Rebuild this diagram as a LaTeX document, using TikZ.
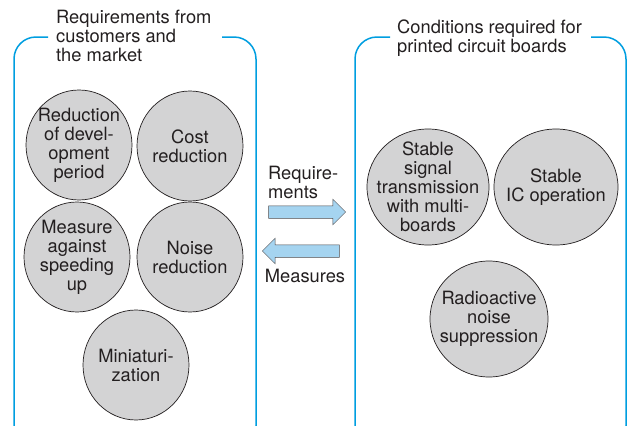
\documentclass[tikz,border=0pt]{standalone}
\usepackage{fontspec}
\setmainfont{TeX Gyre Heros}
\usepackage{xcolor}
\usetikzlibrary{shapes.geometric,shapes.arrows}
\definecolor{frameblue}{RGB}{0,158,224}
\definecolor{bubblegray}{RGB}{211,211,212}
\definecolor{arrowblue}{RGB}{165,212,240}
\definecolor{inkgray}{RGB}{35,31,32}

\begin{document}
\begin{tikzpicture}[x=1pt,y=-1pt,
  every node/.style={text=inkgray,font=\fontsize{18.3}{19}\selectfont},
  frame/.style={draw=frameblue,line width=1.5pt,rounded corners=22pt},
  title/.style={anchor=north west,align=left,inner sep=0pt},
  bubble/.style={ellipse,draw=inkgray,line width=0.7pt,fill=bubblegray,
    minimum width=106pt,minimum height=110pt,inner sep=-40pt,align=center},
  flow/.style={single arrow,draw=inkgray!80,line width=0.5pt,fill=arrowblue,
    minimum height=77pt,minimum width=25pt,inner xsep=0pt,inner ysep=6pt,
    single arrow head extend=6.5pt}]
\clip (0,0) rectangle (633,426);
% the two groups
\draw[frame] (48,37) -- (14,37) -- (14,448) -- (256,448) -- (256,37) -- (222,37);
\draw[frame] (390,37) -- (355,37) -- (355,448) -- (626,448) -- (626,37) -- (591,37);
\node[title] (custtitle) at (56,10) {Requirements from\\customers and\\the market};
\node[title] (pcbtitle) at (397,20) {Conditions required for\\printed circuit boards};
% requirements side
\node[bubble] (devel) at (79,145) {Reduction\\of devel-\\opment\\period};
\node[bubble] (cost) at (190,146) {Cost\\reduction};
\node[bubble] (speed) at (77,257) {Measure\\against\\speeding\\up};
\node[bubble] (noise) at (190,257) {Noise\\reduction};
\node[bubble] (mini) at (136,365) {Miniaturi-\\zation};
% board side
\node[bubble,minimum width=122pt,minimum height=116pt] (signal) at (428,187) {Stable\\signal\\transmission\\with multi-\\boards};
\node[bubble,minimum width=124pt,minimum height=116pt] (icop) at (556,187) {Stable\\IC operation};
\node[bubble,minimum width=118pt,minimum height=116pt] (radio) at (489,319) {Radioactive\\noise\\suppression};
% exchange between both
\node[flow] (req) at (304,212) {};
\node[flow,shape border rotate=180] (meas) at (304,251) {};
\node[anchor=south west,align=left,inner sep=0pt] (reqlab) at (268,199) {Require-\\ments};
\node (measlab) at (305,276) {Measures};
\end{tikzpicture}
\end{document}
